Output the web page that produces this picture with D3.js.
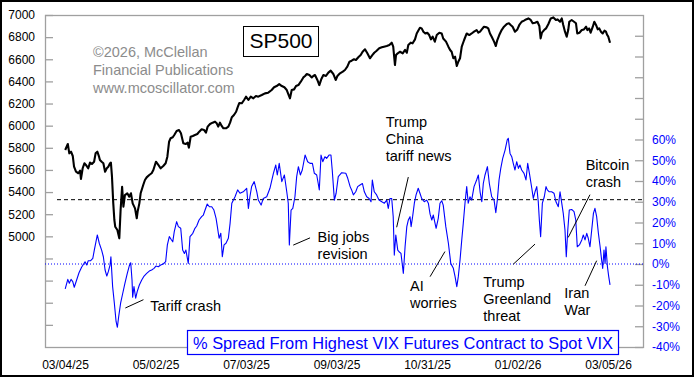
<!DOCTYPE html>
<html><head><meta charset="utf-8">
<script src="https://cdn.jsdelivr.net/npm/d3@7"></script>
<style>
html,body{margin:0;padding:0;background:#fff;}
svg{display:block;font-family:"Liberation Sans",Arial,sans-serif;}
</style></head>
<body>
<script>
// ---- DATA ----
const xTickDays = [0, 42, 84, 126, 168, 210, 252];
const xTickLabels = ["03/04/25","05/02/25","07/03/25","09/03/25","10/31/25","01/02/26","03/05/26"];
const spTicks = [4200,4400,4600,4800,5000,5200,5400,5600,5800,6000,6200,6400,6600,6800,7000];
const pctTicks = [-40,-30,-20,-10,0,10,20,30,40,50,60,70,80,90,100,110];

const spDay = [0.1,1.3,2.0,2.8,3.6,4.2,5.1,6.2,7.0,7.4,8.2,9.0,9.7,10.8,11.6,12.5,13.5,14.2,15.0,15.8,16.2,17.0,17.8,18.6,19.4,20.1,20.9,21.3,21.8,22.4,22.9,23.3,24.3,25.2,25.8,26.5,27.1,27.8,28.9,29.8,30.6,31.4,32.5,33.3,33.7,34.5,35.1,36.3,37.1,37.9,39.1,40.2,41.0,42.2,43.3,44.4,45.6,46.7,47.5,48.3,49.0,50.0,50.7,51.8,52.9,53.8,54.9,56.0,56.9,57.5,58.3,59.3,60.3,61.4,62.3,63.4,64.5,65.4,66.2,67.3,68.5,69.6,70.4,71.1,71.9,72.7,73.5,74.7,75.8,76.6,77.4,78.4,79.4,80.1,80.9,82.0,83.1,84.0,85.1,86.2,87.4,88.6,89.7,91.3,92.8,94.3,95.9,97.0,98.2,99.4,100.6,101.8,102.9,103.8,104.4,105.2,106.3,107.2,108.3,109.4,110.6,111.4,112.2,113.4,114.5,115.2,116.0,117.1,118.0,118.9,119.9,121.1,122.2,123.3,124.5,125.6,126.4,127.6,128.9,129.9,131.0,132.0,133.0,134.1,135.0,136.1,137.2,138.1,139.2,140.3,141.5,142.6,143.5,144.6,145.8,147.0,148.0,149.3,150.5,151.6,152.3,153.1,153.6,154.4,155.5,156.7,157.8,158.6,159.3,160.4,161.3,162.4,163.2,163.9,164.7,165.5,166.3,167.2,168.1,169.0,169.8,170.6,171.6,172.5,173.7,174.8,175.5,176.8,177.9,178.7,179.4,180.2,181.0,181.8,182.5,183.3,184.1,185.2,186.4,187.6,188.7,189.8,191.0,191.8,192.6,193.4,194.4,195.7,196.4,197.2,198.0,199.1,199.9,200.6,201.5,202.6,203.7,205.0,206.0,206.8,207.7,208.8,209.9,210.8,211.9,213.0,213.9,215.0,216.1,217.0,218.1,219.2,220.1,220.7,221.3,222.3,223.2,224.3,225.4,226.6,227.8,228.6,229.7,230.5,231.2,232.0,232.8,233.5,234.0,235.1,236.2,237.1,237.7,238.7,239.8,240.8,241.8,242.4,243.2,243.9,244.9,245.6,246.4,247.2,247.9,248.7,249.5,250.3,251.0,251.6,252.1,252.9];
const spVal = [5780,5834,5750,5765,5726,5629,5584,5570,5593,5518,5615,5660,5645,5615,5666,5654,5674,5750,5765,5720,5690,5674,5660,5584,5615,5629,5660,5666,5539,5298,5148,5087,5057,4982,5238,5448,5268,5373,5389,5358,5389,5298,5253,5163,5223,5298,5389,5464,5509,5533,5554,5570,5599,5674,5645,5615,5636,5660,5720,5855,5886,5895,5916,5952,5961,5931,5841,5834,5846,5801,5900,5907,5916,5925,5946,5967,5961,5937,5991,6015,6027,6036,6021,5991,6027,5997,5976,5976,5991,6027,6076,6096,6126,6166,6205,6202,6232,6262,6232,6262,6247,6268,6262,6277,6292,6298,6322,6347,6358,6376,6358,6347,6322,6277,6247,6322,6328,6358,6367,6397,6436,6449,6467,6458,6436,6449,6458,6413,6367,6419,6458,6449,6479,6497,6467,6413,6449,6473,6488,6503,6533,6578,6587,6600,6593,6618,6638,6668,6690,6654,6609,6638,6659,6677,6699,6708,6714,6720,6729,6750,6714,6548,6638,6654,6668,6654,6684,6659,6729,6750,6744,6780,6833,6858,6885,6879,6849,6833,6840,6819,6780,6804,6759,6819,6840,6833,6788,6759,6714,6684,6668,6609,6623,6539,6578,6609,6714,6774,6833,6819,6833,6849,6864,6840,6849,6870,6894,6888,6879,6833,6804,6759,6720,6774,6819,6864,6894,6919,6925,6910,6894,6849,6870,6910,6939,6949,6960,6969,6955,6925,6930,6939,6901,6789,6840,6864,6879,6919,6969,6978,6955,6960,6939,6969,6910,6849,6804,6864,6939,6955,6939,6925,6833,6840,6864,6870,6894,6864,6879,6840,6894,6939,6910,6870,6879,6849,6833,6858,6849,6819,6804,6750];

const vixDay = [0.1,1.3,2.0,2.8,3.6,4.3,5.4,6.5,7.7,9.3,10.1,10.8,11.9,12.9,13.6,15.0,15.9,17.0,17.8,18.6,19.4,20.1,20.9,21.3,22.1,22.9,23.7,24.3,24.9,25.8,26.8,27.8,28.9,29.8,30.5,31.1,31.4,32.0,32.8,33.5,34.5,35.6,36.7,37.9,39.1,40.2,41.3,42.2,43.3,44.4,45.6,46.7,47.5,48.4,49.2,50.0,50.7,51.8,52.6,53.7,54.6,55.4,56.1,57.2,58.0,59.3,60.3,61.1,62.2,63.4,64.2,65.0,66.0,67.0,68.1,69.1,70.1,70.7,71.5,72.3,73.0,73.8,74.7,75.8,76.6,77.4,78.9,80.1,81.2,82.7,84.3,85.1,85.8,86.6,87.8,89.0,89.7,91.0,92.0,93.6,95.1,96.7,97.8,98.5,99.4,100.6,101.8,102.9,103.6,104.1,104.9,105.7,106.7,107.5,108.3,109.2,110.1,111.4,112.6,113.7,114.8,115.7,116.8,117.5,118.0,118.8,119.6,120.6,121.4,122.5,123.4,124.0,125.0,125.8,126.8,128.4,130.3,131.2,132.3,133.0,133.8,134.9,135.8,136.9,138.0,138.9,140.0,141.1,142.0,142.6,143.5,144.6,145.7,147.0,148.2,149.3,150.0,150.8,151.6,152.3,152.8,153.5,154.4,155.0,155.9,157.0,157.8,158.6,159.3,160.1,160.6,161.3,162.1,162.9,163.9,164.7,165.5,166.7,167.8,168.6,169.4,170.2,170.9,172.2,173.2,174.0,174.8,175.5,176.7,177.9,179.0,180.2,181.0,181.8,182.5,183.3,184.1,184.8,185.6,186.4,187.1,187.9,188.7,189.8,191.0,191.8,192.6,193.4,194.1,194.9,196.0,196.9,198.0,199.1,199.9,200.6,201.4,202.2,203.1,204.2,205.2,205.7,206.5,207.3,208.0,208.8,209.6,210.4,211.1,211.9,213.0,213.9,214.7,215.5,216.6,217.3,218.1,218.9,219.6,220.1,220.7,221.5,222.4,223.2,223.8,224.7,225.8,226.9,227.8,228.9,229.7,230.5,231.2,232.0,232.6,233.3,234.0,235.1,236.2,237.0,237.7,238.7,239.8,240.5,241.3,242.1,242.8,243.6,244.4,245.2,245.9,246.7,247.5,248.3,249.0,249.5,250.1,250.6,251.0,251.7,252.3,252.9];
const vixPct = [-12.0,-7.4,-9.3,-7.4,-8.5,-11.2,-7.7,-4.2,-1.6,1.1,-0.5,1.6,1.6,2.7,6.7,14.0,10.0,6.7,3.5,-2.9,-5.8,-3.7,-0.5,3.5,-10.9,-18.9,-27.7,-30.5,-25.4,-18.9,-14.1,-9.3,-4.5,-1.0,0.6,-7.7,-16.0,-10.9,-16.5,-13.3,-10.1,-7.7,-5.8,-4.5,-3.4,-2.9,-2.1,-1.0,-1.3,-0.5,0.0,1.1,9.2,13.2,11.9,10.7,15.6,20.4,18.0,17.2,6.7,5.1,6.7,0.3,13.2,14.8,17.2,18.3,21.2,22.8,23.6,26.0,28.9,27.6,27.6,26.0,22.0,18.0,12.4,14.8,3.5,9.2,10.0,12.4,19.6,29.3,32.4,35.7,34.1,34.8,36.5,26.8,32.4,37.3,39.7,34.8,30.8,28.4,31.6,32.4,36.5,43.7,47.7,42.9,48.5,39.7,42.9,34.8,29.3,9.2,26.0,26.8,32.4,42.1,46.9,42.9,45.3,52.5,49.3,48.5,48.5,43.7,42.9,38.8,35.7,52.5,49.3,51.7,50.9,52.5,52.5,45.3,30.8,34.1,42.1,44.0,43.7,41.3,37.3,35.7,33.3,34.8,37.3,38.1,38.8,34.8,32.4,31.6,30.0,40.5,34.8,33.3,30.8,30.0,29.3,30.8,26.8,31.6,31.6,22.8,4.3,14.0,6.7,5.9,5.1,-4.5,8.3,18.0,21.2,22.8,18.0,22.8,29.3,33.3,36.5,34.1,31.6,30.0,30.8,29.3,24.0,21.2,23.6,17.2,22.0,29.3,30.5,28.4,18.0,10.0,0.3,-2.1,-6.1,-10.9,-6.1,1.9,11.6,19.6,29.3,37.3,29.3,32.4,30.8,37.3,40.5,42.9,34.8,30.0,38.8,42.9,46.9,38.8,32.4,30.8,24.7,30.8,40.5,46.1,50.9,54.9,59.8,60.6,53.3,51.7,48.5,45.3,49.3,46.1,47.7,45.3,43.7,40.5,48.5,43.7,36.5,31.6,34.8,37.3,30.0,21.2,13.2,29.3,32.4,37.3,35.7,34.8,34.8,34.1,30.0,27.6,34.8,29.3,24.4,16.4,3.5,16.4,26.0,26.3,25.2,21.2,8.3,9.2,11.6,14.0,11.6,14.8,12.4,8.3,16.4,24.4,26.8,22.8,14.8,8.3,1.9,-2.1,6.7,0.3,8.3,-1.3,-6.1,-10.1];

const thresholdPct = 31;
const zeroPct = 0;

const annotations = [
  {lines:["Tariff crash"], day:39.6, pct:-22.5, from:[28,-21.2], to:[36.4,-17.2]},
  {lines:["Big jobs","revision"], day:117.2, pct:10.5, from:[105.9,9.1], to:[113.7,12.6]},
  {lines:["Trump","China","tariff news"], day:148.8, pct:66.2, from:[159.3,41.9], to:[153.9,17.7]},
  {lines:["AI","worries"], day:160.1, pct:-13.2, from:[169.4,-6.1], to:[176.3,6.0]},
  {lines:["Trump","Greenland","threat"], day:194.1, pct:-11.0, from:[208,-0.1], to:[218.1,9.6]},
  {lines:["Bitcoin","crash"], day:241.6, pct:45.2, from:[243.6,33.4], to:[233.5,12.8]},
  {lines:["Iran","War"], day:231.7, pct:-16.5, from:[241.3,-10.5], to:[246.7,1.6]}
];
const watermark = ["\u00A92026, McClellan","Financial Publications","www.mcoscillator.com"];
const titleText = "SP500";
const legendText = "% Spread From Highest VIX Futures Contract to Spot VIX";

// ---- CHART ----
const W = 695, H = 378;
const L = 45, R = 643, T = 15, B = 347;
const grey = "#a0a0a0";
const svg = d3.select("body").append("svg").attr("width", W).attr("height", H);
svg.append("rect").attr("width", W).attr("height", H).attr("fill", "#fff");

const x = d3.scaleLinear().domain([-9.28, 268.2]).range([L, R]);
const yL = d3.scaleLinear().domain([4000, 7000]).range([B, T]);
const yR = d3.scaleLinear().domain([-40, 120]).range([B, T]);

// plot frame
svg.append("rect").attr("x", L + 0.5).attr("y", T + 0.5).attr("width", R - L).attr("height", B - T)
  .attr("fill", "none").attr("stroke", grey).attr("stroke-width", 1.3);

// left axis
const gl = svg.append("g").attr("transform", `translate(${L},0)`)
  .call(d3.axisLeft(yL).tickValues(spTicks).tickSize(-8).tickSizeOuter(0).tickPadding(10)
    .tickFormat(d => d >= 5000 ? d : ""));
gl.select(".domain").remove();
gl.selectAll(".tick line").attr("stroke", grey).attr("stroke-width", 1.3);
gl.selectAll(".tick text").attr("fill", "#000").style("font-size", "12px").style("font-family", "Liberation Sans, Arial, sans-serif");

// right axis
const gr = svg.append("g").attr("transform", `translate(${R},0)`)
  .call(d3.axisRight(yR).tickValues(pctTicks).tickSize(-8).tickSizeOuter(0).tickPadding(9)
    .tickFormat(d => d <= 60 ? d + "%" : ""));
gr.select(".domain").remove();
gr.selectAll(".tick line").attr("stroke", grey).attr("stroke-width", 1.3);
gr.selectAll(".tick text").attr("fill", "#0000ff").style("font-size", "12px").style("font-family", "Liberation Sans, Arial, sans-serif");

// bottom axis (labels only)
const gb = svg.append("g").attr("transform", `translate(0,${B})`)
  .call(d3.axisBottom(x).tickValues(xTickDays).tickSize(0).tickPadding(13)
    .tickFormat((d, i) => xTickLabels[i]));
gb.select(".domain").remove();
gb.selectAll(".tick text").attr("fill", "#000").style("font-size", "12px").style("font-family", "Liberation Sans, Arial, sans-serif");

// reference lines
svg.append("line").attr("x1", L).attr("x2", R).attr("y1", yR(zeroPct)).attr("y2", yR(zeroPct))
  .attr("stroke", "#0000ff").attr("stroke-width", 1).attr("stroke-dasharray", "1,2");
svg.append("line").attr("x1", L + 12).attr("x2", R).attr("y1", yR(thresholdPct)).attr("y2", yR(thresholdPct))
  .attr("stroke", "#000").attr("stroke-width", 1).attr("stroke-dasharray", "4,3");

// watermark
const wm = svg.append("text").attr("x", 93).attr("y", 57).attr("fill", "#8c8c8c").style("font-size", "14.5px");
watermark.forEach((t, i) => wm.append("tspan").attr("x", 93).attr("dy", i ? 18 : 0).text(t));

// title box
svg.append("rect").attr("x", 243.5).attr("y", 26.5).attr("width", 75).attr("height", 30)
  .attr("fill", "#fff").attr("stroke", "#000").attr("stroke-width", 1);
svg.append("text").attr("x", 281).attr("y", 48).attr("text-anchor", "middle")
  .style("font-size", "21px").attr("fill", "#000").text(titleText);

// series
const spData = spDay.map((d, i) => [d, spVal[i]]);
const vixData = vixDay.map((d, i) => [d, vixPct[i]]);
svg.append("path").datum(vixData).attr("fill", "none").attr("stroke", "#0000ff").attr("stroke-width", 1.1)
  .attr("stroke-linejoin", "round")
  .attr("d", d3.line().x(d => x(d[0])).y(d => yR(d[1])));
svg.append("path").datum(spData).attr("fill", "none").attr("stroke", "#000").attr("stroke-width", 2.1)
  .attr("stroke-linejoin", "round")
  .attr("d", d3.line().x(d => x(d[0])).y(d => yL(d[1])));

// annotations
annotations.forEach(a => {
  const t = svg.append("text").attr("x", x(a.day)).attr("y", yR(a.pct)).attr("fill", "#000").style("font-size", "14.5px");
  a.lines.forEach((s, i) => t.append("tspan").attr("x", x(a.day)).attr("dy", i ? 17 : 0).text(s));
  svg.append("line").attr("x1", x(a.from[0])).attr("y1", yR(a.from[1])).attr("x2", x(a.to[0])).attr("y2", yR(a.to[1]))
    .attr("stroke", "#000").attr("stroke-width", 1);
});

// legend box
svg.append("rect").attr("x", 187.5).attr("y", 330.5).attr("width", 431).attr("height", 24)
  .attr("fill", "#fff").attr("stroke", "#0000ff").attr("stroke-width", 1.2);
svg.append("text").attr("x", 403).attr("y", 348.5).attr("text-anchor", "middle")
  .attr("fill", "#0000ff").style("font-size", "16.4px").text(legendText);

// outer frame
svg.append("rect").attr("x", 1).attr("y", 1).attr("width", W - 3).attr("height", H - 3)
  .attr("fill", "none").attr("stroke", "#000").attr("stroke-width", 2);
</script>
</body></html>
